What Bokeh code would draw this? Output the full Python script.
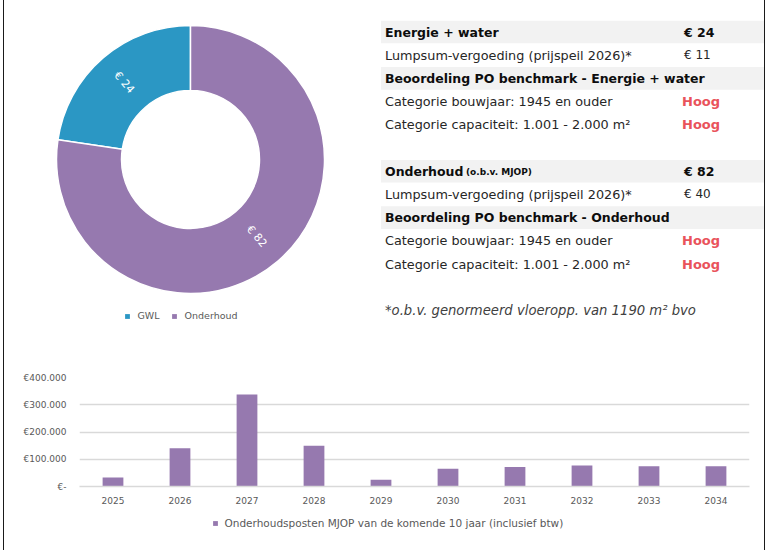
import numpy as np
from bokeh.plotting import figure
from bokeh.models import (ColumnDataSource, Range1d, FactorRange, FixedTicker, Legend,
                          LegendItem)
from bokeh.embed import file_html
from bokeh.resources import INLINE
from bokeh.core.properties import value

# ---------------- data ----------------
donut_labels = ["GWL", "Onderhoud"]
donut_values = [24, 82]
donut_colors = ["#2B97C4", "#9679AF"]

years = ["2025", "2026", "2027", "2028", "2029", "2030", "2031", "2032", "2033", "2034"]
mjop_costs = [33000, 140000, 338000, 150000, 25000, 65000, 72000, 77000, 74000, 74000]
y_ticks = [0, 100000, 200000, 300000, 400000]
y_tick_labels = ["€-", "€100.000", "€200.000", "€300.000", "€400.000"]
bar_series = "Onderhoudsposten MJOP van de komende 10 jaar (inclusief btw)"

energie_rows = [
    ("Energie + water", "€ 24", "head"),
    ("Lumpsum-vergoeding (prijspeil 2026)*", "€ 11", "plain"),
    ("Beoordeling PO benchmark - Energie + water", "", "band"),
    ("Categorie bouwjaar: 1945 en ouder", "Hoog", "rating"),
    ("Categorie capaciteit: 1.001 - 2.000 m²", "Hoog", "rating"),
]
onderhoud_rows = [
    ("Onderhoud", "€ 82", "head"),
    ("Lumpsum-vergoeding (prijspeil 2026)*", "€ 40", "plain"),
    ("Beoordeling PO benchmark - Onderhoud", "", "band"),
    ("Categorie bouwjaar: 1945 en ouder", "Hoog", "rating"),
    ("Categorie capaciteit: 1.001 - 2.000 m²", "Hoog", "rating"),
]
onderhoud_suffix = "(o.b.v. MJOP)"
footnote = "*o.b.v. genormeerd vloeropp. van 1190 m² bvo"

# ---------------- styles ----------------
FONT_NAME = "DejaVu Sans"
FONT = value(FONT_NAME)
OX = 4.5            # canvas offset from page left (margin + border)
W = 762
H_TOP = 340
H_BOT = 170
H_LEG = 40
PURPLE = donut_colors[1]
RED = "#E9535B"
GRAY_TXT = "#595959"
BOX_STYLE = {"margin-left": "3px", "border-left": "1.5px solid #1A1A1A",
             "border-right": "1.5px solid #1A1A1A"}


def legend(items, loc, size="9.5px", standoff=8):
    return Legend(items=items, orientation="horizontal", location=loc,
                  glyph_width=6, glyph_height=6, label_standoff=standoff, spacing=11,
                  padding=0, margin=0, border_line_color=None, background_fill_alpha=0,
                  label_text_font=FONT_NAME, label_text_font_size=size,
                  label_text_color=GRAY_TXT, label_height=10)


def canvas_figure(h):
    f = figure(width=W, height=h, x_range=Range1d(0, W), y_range=Range1d(h, 0),
               output_backend="svg", toolbar_location=None, min_border=0,
               x_axis_location=None, y_axis_location=None, outline_line_color=None,
               styles=BOX_STYLE)
    f.grid.visible = False
    return f


# ---------------- top figure (donut + table) ----------------
top = canvas_figure(H_TOP)

cx, cy = 190.5 - OX, 159.0
r_in, r_out = 69, 134
vals = np.array(donut_values, dtype=float)
spans = vals / vals.sum() * 2 * np.pi
starts = np.pi / 2 + np.concatenate([[0], np.cumsum(spans)[:-1]])
ends = starts + spans
dsrc = ColumnDataSource(dict(start=starts, end=ends, color=donut_colors, label=donut_labels))
top.annular_wedge(x=cx, y=cy, inner_radius=r_in, outer_radius=r_out,
                  inner_radius_units="screen", outer_radius_units="screen",
                  start_angle="start", end_angle="end", direction="anticlock",
                  fill_color="color", line_color="white", line_width=1.5, source=dsrc)

mids = (starts + ends) / 2
r_lab = (r_in + r_out) / 2
lab_x = cx + r_lab * np.cos(mids)
lab_y = cy - r_lab * np.sin(mids)
lab_ang = np.where(np.cos(mids) < 0, mids - np.pi, mids)
top.text(x=lab_x, y=lab_y, text=["€ %d" % v for v in donut_values], angle=lab_ang,
         text_font=FONT, text_font_size="11px", text_color="white",
         text_align="center", text_baseline="middle")

proxies = []
for lbl, col in zip(donut_labels, donut_colors):
    r = top.rect(x=[np.nan], y=[np.nan], width=1, height=1, fill_color=col, line_color=None)
    proxies.append(LegendItem(label=lbl, renderers=[r]))
top.add_layout(legend(proxies, (124 - OX, 340 - 321)), "center")

# table
row_h = 23.2
row0 = 31.5
band_l, band_r = 381 - OX, W
lab_x0 = 385 - OX
val_x0 = 684 - OX
all_rows = [(i, r) for i, r in enumerate(energie_rows)] + \
           [(i + 6, r) for i, r in enumerate(onderhoud_rows)]
band_y = [row0 + i * row_h for i, r in all_rows if r[2] in ("head", "band")]
top.quad(left=band_l, right=band_r, top=[y - 11.3 for y in band_y],
         bottom=[y + 11.3 for y in band_y], fill_color="#F2F2F2", line_color=None)

bold_y = [row0 + i * row_h for i, r in all_rows if r[2] in ("head", "band")]
bold_t = [r[0] for i, r in all_rows if r[2] in ("head", "band")]
top.text(x=lab_x0, y=bold_y, text=bold_t, text_font=FONT, text_font_size="12.5px",
         text_font_style="bold", text_color="#0D0D0D", text_baseline="middle")
plain_y = [row0 + i * row_h for i, r in all_rows if r[2] in ("plain", "rating")]
plain_t = [r[0] for i, r in all_rows if r[2] in ("plain", "rating")]
top.text(x=lab_x0, y=plain_y, text=plain_t, text_font=FONT, text_font_size="12.8px",
         text_color="#262626", text_baseline="middle")
head_y = [row0 + i * row_h for i, r in all_rows if r[2] == "head"]
head_v = [r[1] for i, r in all_rows if r[2] == "head"]
top.text(x=val_x0, y=head_y, text=head_v, text_font=FONT, text_font_size="12.5px",
         text_font_style="bold", text_color="#0D0D0D", text_baseline="middle")
pv_y = [row0 + i * row_h for i, r in all_rows if r[2] == "plain"]
pv_v = [r[1] for i, r in all_rows if r[2] == "plain"]
top.text(x=val_x0, y=pv_y, text=pv_v, text_font=FONT, text_font_size="12px",
         text_color="#262626", text_baseline="middle")
rt_y = [row0 + i * row_h for i, r in all_rows if r[2] == "rating"]
rt_v = [r[1] for i, r in all_rows if r[2] == "rating"]
top.text(x=val_x0 - 2, y=rt_y, text=rt_v, text_font=FONT, text_font_size="13px",
         text_font_style="bold", text_color=RED, text_baseline="middle")
top.text(x=[466 - OX], y=[row0 + 6 * row_h + 1], text=[onderhoud_suffix], text_font=FONT,
         text_font_size="9px", text_font_style="bold", text_color="#0D0D0D",
         text_baseline="middle")
top.text(x=[lab_x0], y=[row0 + 12 * row_h], text=[footnote], text_font=FONT,
         text_font_size="13.2px", text_font_style="italic", text_color="#404040",
         text_baseline="middle")

# ---------------- bottom figure (bars) ----------------
bot = figure(width=W, height=H_BOT, x_range=FactorRange(*years), y_range=Range1d(0, 400000),
             output_backend="svg", toolbar_location=None, outline_line_color=None,
             min_border_left=75, min_border_right=17, min_border_top=37,
             min_border_bottom=H_BOT - 37 - 109, styles=BOX_STYLE)
bsrc = ColumnDataSource(dict(year=years, cost=mjop_costs))
bars = bot.vbar(x="year", top="cost", width=0.31, source=bsrc, fill_color=PURPLE, line_color=None)

bot.xgrid.visible = False
bot.ygrid.grid_line_color = "#D9D9D9"
bot.ygrid.grid_line_width = 1.3
bot.yaxis.ticker = FixedTicker(ticks=y_ticks)
bot.yaxis.major_label_overrides = {t: l for t, l in zip(y_ticks, y_tick_labels)}
bot.yaxis.axis_line_color = None
bot.yaxis.major_tick_line_color = None
bot.yaxis.minor_tick_line_color = None
bot.yaxis.major_label_standoff = 7
bot.xaxis.axis_line_color = "#D9D9D9"
bot.xaxis.axis_line_width = 1.3
bot.xaxis.major_tick_line_color = None
bot.xaxis.major_label_standoff = 4
for ax in (bot.xaxis[0], bot.yaxis[0]):
    ax.major_label_text_font = FONT_NAME
    ax.major_label_text_font_size = "9px"
    ax.major_label_text_color = GRAY_TXT

# ---------------- legend strip for the bars ----------------
leg = canvas_figure(H_LEG)
proxy = leg.rect(x=[np.nan], y=[np.nan], width=1, height=1, fill_color=PURPLE, line_color=None)
leg.add_layout(legend([LegendItem(label=bar_series, renderers=[proxy])],
                      (212 - OX, H_LEG - 14 - 5), size="10.5px", standoff=7), "center")

open("out.html", "w").write(file_html([top, bot, leg], INLINE))
